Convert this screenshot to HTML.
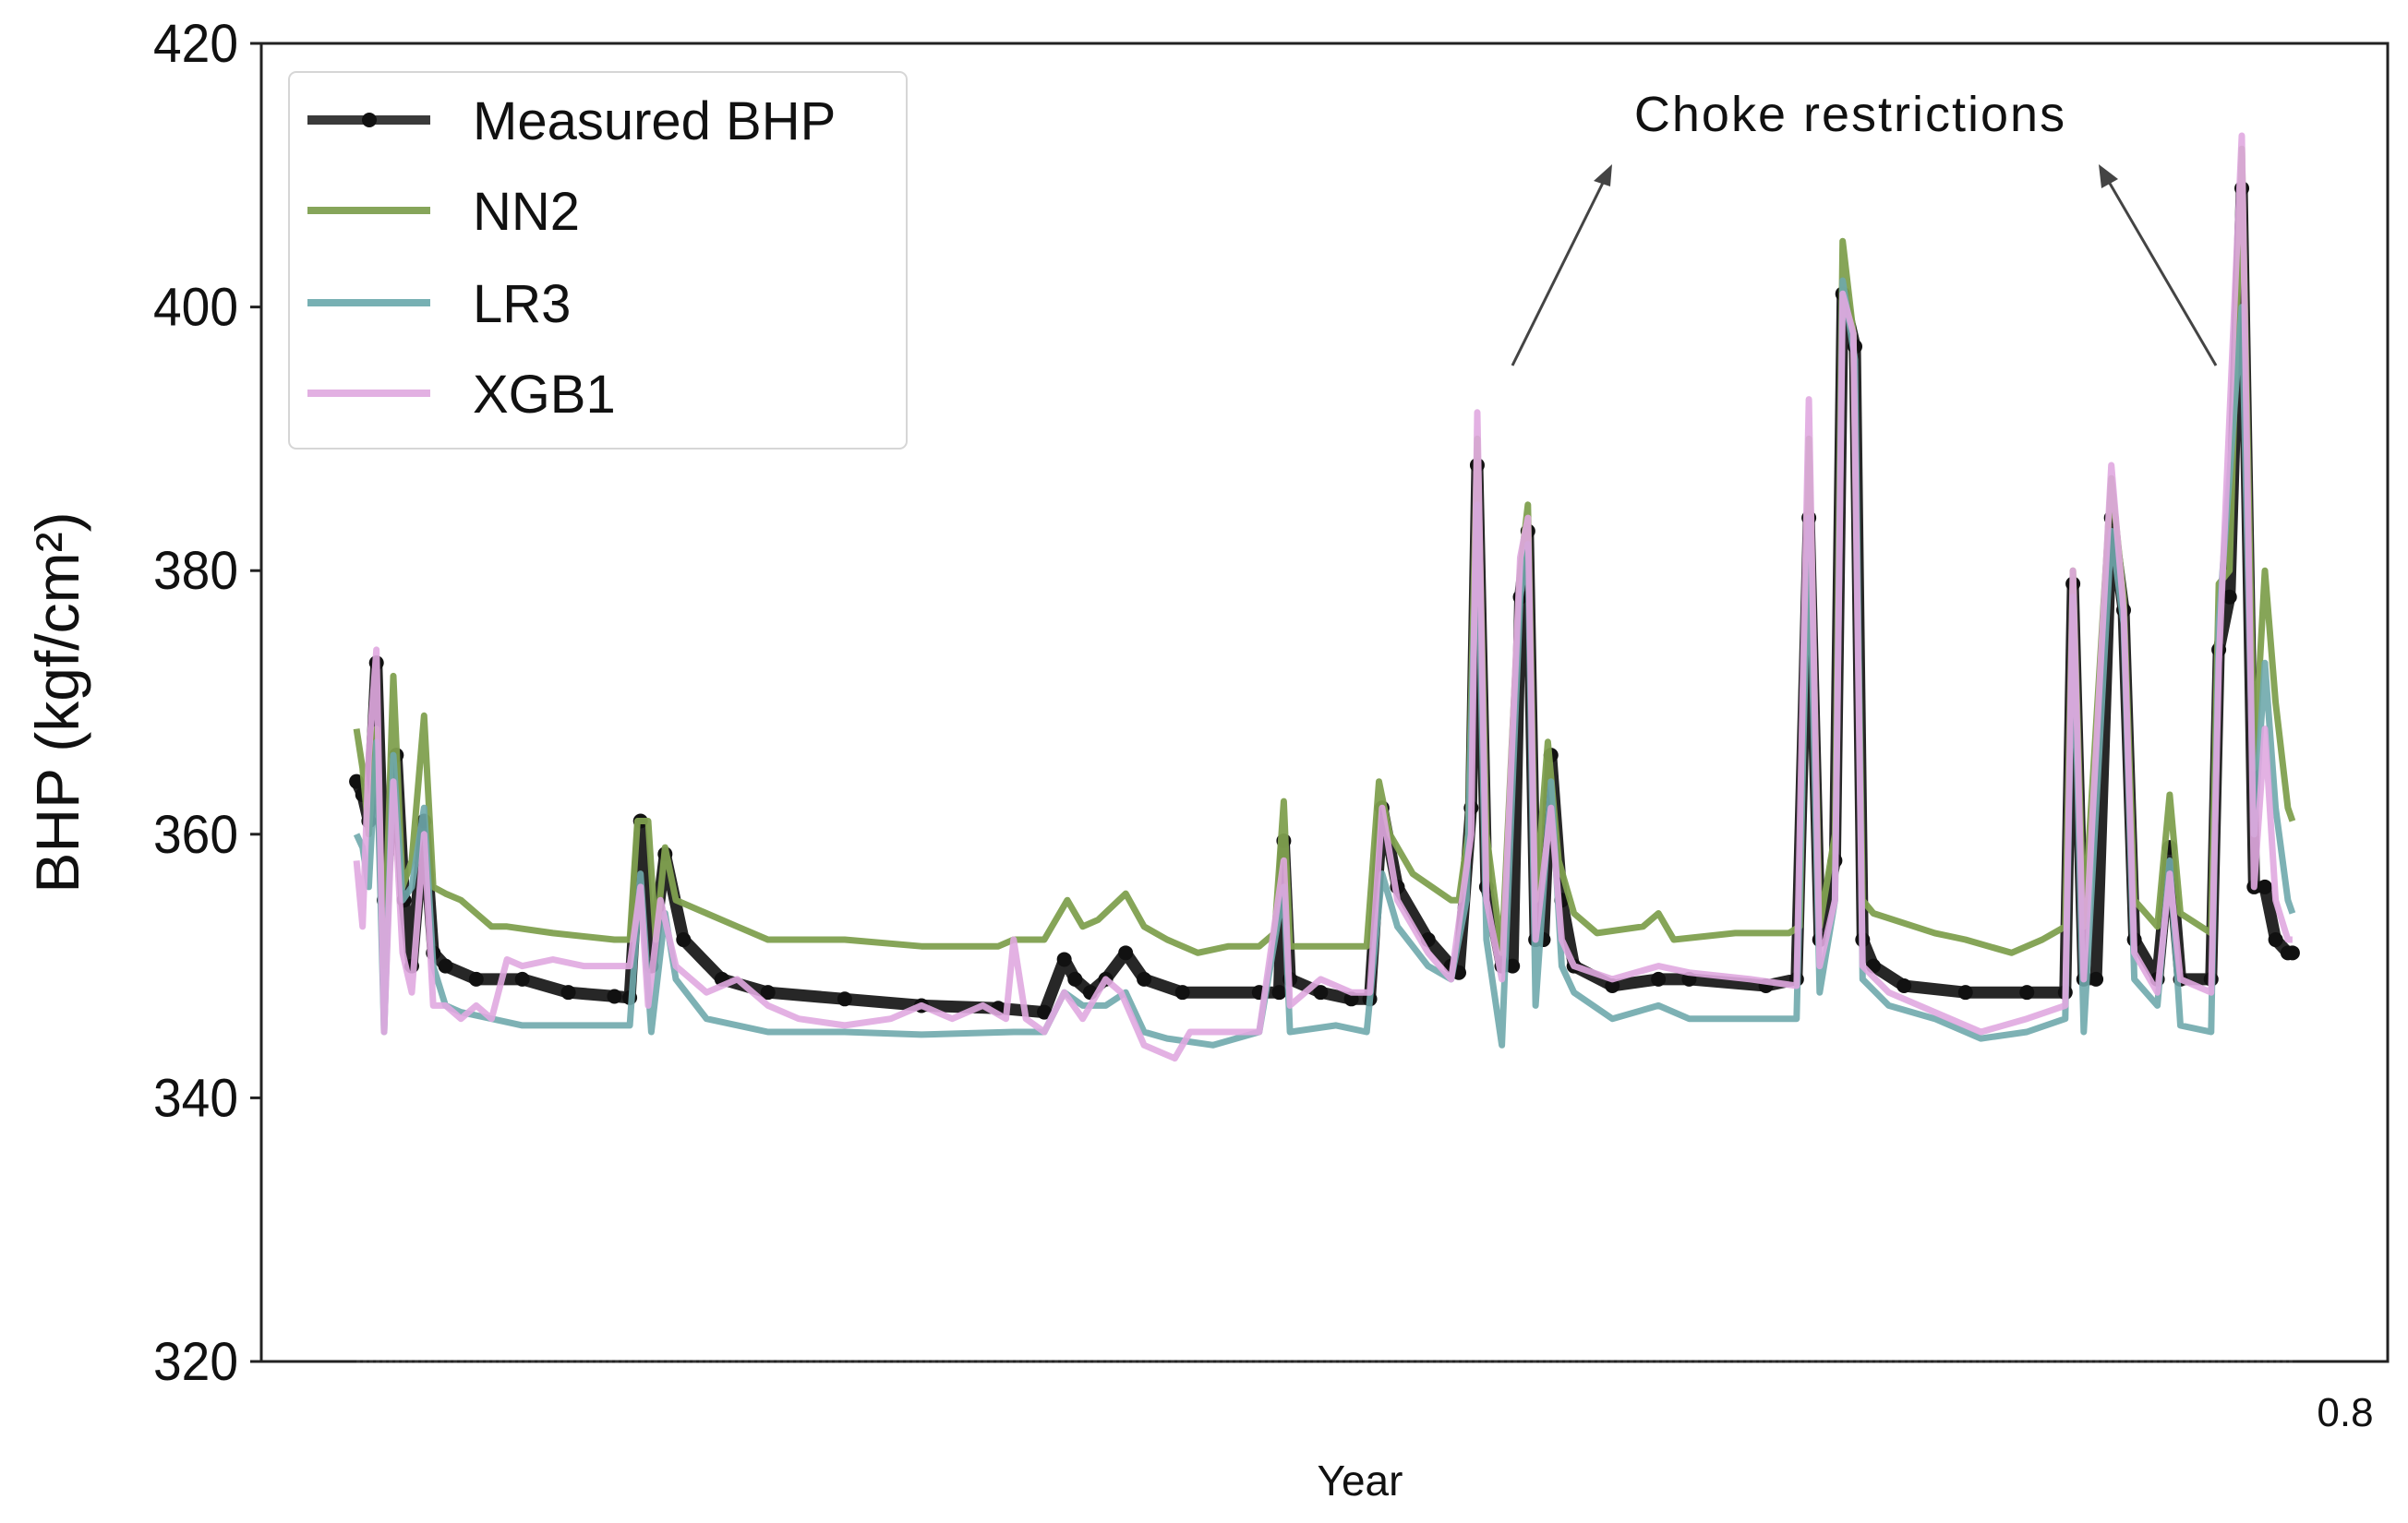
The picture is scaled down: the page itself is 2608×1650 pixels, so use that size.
<!DOCTYPE html>
<html><head><meta charset="utf-8">
<style>
html,body{margin:0;padding:0;background:#fff;}
svg{display:block;font-family:"Liberation Sans","DejaVu Sans",sans-serif;}
</style></head>
<body>
<svg id="chart" width="2608" height="1650" viewBox="0 0 2608 1650">
<rect width="2608" height="1650" fill="#fff"/>
<g id="plot"></g>
<g id="axes"></g>
<g>
  <rect x="313" y="78" width="669" height="408" rx="8" fill="#fff" fill-opacity="0.9" stroke="#d6d6d6" stroke-width="2"/>
  <g>
    <line x1="333" y1="130" x2="466" y2="130" stroke="#3a3a3a" stroke-width="10"/>
    <circle cx="400" cy="130" r="8" fill="#111"/>
    <text x="512" y="151" font-size="58" fill="#111">Measured BHP</text>
  </g>
  <g>
    <line x1="333" y1="228" x2="466" y2="228" stroke="#86a55a" stroke-width="8"/>
    <text x="512" y="249" font-size="58" fill="#111">NN2</text>
  </g>
  <g>
    <line x1="333" y1="328" x2="466" y2="328" stroke="#77b0b3" stroke-width="8"/>
    <text x="512" y="349" font-size="58" fill="#111">LR3</text>
  </g>
  <g>
    <line x1="333" y1="426" x2="466" y2="426" stroke="#e2b0e2" stroke-width="8"/>
    <text x="512" y="447" font-size="58" fill="#111">XGB1</text>
  </g>
</g>
<g>
  <text x="2004" y="142" font-size="54" letter-spacing="2" text-anchor="middle" fill="#111">Choke restrictions</text>
  <line x1="1638" y1="396" x2="1740" y2="190" stroke="#444" stroke-width="3"/>
  <polygon points="1746,178 1726,196 1744,202" fill="#444"/>
  <line x1="2400" y1="396" x2="2280" y2="190" stroke="#444" stroke-width="3"/>
  <polygon points="2273,178 2276,204 2294,194" fill="#444"/>
</g>
<text x="1473" y="1620" font-size="46" text-anchor="middle" fill="#111">Year</text>
<text x="2540" y="1545" font-size="44" text-anchor="middle" fill="#111">0.8</text>
<text transform="translate(85,761) rotate(-90)" font-size="66" text-anchor="middle" fill="#111">BHP (kgf/cm²)</text>
</svg>
<script>
const yTicks = [320, 340, 360, 380, 400, 420];
const measuredDays = [0,4,8,13,18,26,31,36,44,50,58,78,108,138,168,178,185,192,201,213,238,268,318,368,418,448,461,468,478,488,501,513,538,588,601,604,608,628,648,660,668,678,698,713,718,726,730,736,746,753,758,763,768,773,778,785,793,818,848,868,918,938,946,953,963,968,976,981,988,1008,1048,1088,1113,1118,1125,1133,1143,1151,1158,1173,1181,1188,1208,1213,1220,1228,1236,1243,1250,1258,1261];
const measuredValues = [364,363,361,373,355,366,355,350,361,351,350,349,349,348,347.7,347.6,361,350,358.5,352,349,348,347.5,347,346.8,346.5,350.5,349,348,349,351,349,348,348,348,359.5,349,348,347.5,347.5,362,356,352,350,349.5,362,388,356,350,350,378,383,352,352,366,355,350,348.5,349,349,348.5,349,384,352,358,401,397,352,350,348.5,348,348,348,379,349,349,384,377,352,349,359,349,349,374,378,409,356,356,352,351,351];
const nnDays = [0,4,8,13,18,24,30,36,44,50,58,68,78,88,98,128,168,178,183,190,195,201,208,228,248,268,318,368,418,428,448,463,473,483,501,513,528,548,568,588,598,604,608,638,658,666,673,688,713,718,724,730,736,746,758,763,768,776,783,793,808,838,848,858,898,933,940,946,953,963,968,975,981,988,1028,1048,1078,1098,1113,1118,1125,1143,1151,1158,1173,1181,1188,1208,1213,1220,1228,1236,1243,1250,1258,1261];
const nnValues = [368,365,360,368,350,372,356,358,369,356,355.5,355,354,353,353,352.5,352,352,361,361,352,359,355,354,353,352,352,351.5,351.5,352,352,355,353,353.5,355.5,353,352,351,351.5,351.5,352.5,362.5,351.5,351.5,351.5,364,360,357,355,355,360,390,360,351,380,385,355,367,358,354,352.5,353,354,352,352.5,352.5,353,390,353,360,405,398,355,354,352.5,352,351,352,353,380,353,387,378,355,353,363,354,352.5,379,380,412,365,380,370,362,361];
const lrDays = [0,4,8,13,18,24,30,36,44,50,58,68,88,108,138,178,185,192,201,208,228,268,318,368,428,448,461,473,488,501,513,528,558,588,604,608,638,658,668,678,698,713,723,730,736,746,758,763,768,778,785,793,818,848,868,938,946,953,963,968,976,981,998,1028,1058,1088,1113,1118,1125,1143,1151,1158,1173,1181,1188,1208,1213,1228,1236,1243,1250,1258,1261];
const lrValues = [360,359,356,367,345,366,355,356,362,350,347,346.5,346,345.5,345.5,345.5,357,345,354,349,346,345,345,344.8,345,345,348,347,347,348,345,344.5,344,345,356,345,345.5,345,357,353,350,349,355,385,352,344,378,382,347,364,350,348,346,347,346,346,384,348,355,402,396,349,347,346,344.5,345,346,378,345,383,376,349,347,358,345.5,345,376,400,360,373,362,355,354];
const xgbDays = [0,4,8,13,18,24,30,36,44,50,58,68,78,88,98,108,128,148,178,185,190,198,208,228,248,268,288,318,348,368,388,408,423,428,436,448,461,473,488,498,513,533,543,558,588,604,608,628,648,660,668,678,698,713,726,730,736,746,758,763,768,778,785,793,818,848,868,908,938,946,953,963,968,975,981,998,1028,1058,1088,1113,1118,1125,1143,1151,1158,1173,1181,1188,1208,1213,1228,1236,1243,1250,1258,1261];
const xgbValues = [358,353,366,374,345,364,351,348,360,347,347,346,347,346,350.5,350,350.5,350,350,356,347,355,350,348,349,347,346,345.5,346,347,346,347,346,352,346,345,348,346,349,348,344,343,345,345,345,358,347,349,348,348,362,355,351,349,360,392,355,349,381,384,352,362,352,350,349,350,349.5,349,348.5,393,350,355,401,398,350,348,346.5,345,346,347,380,349,388,377,351,348,357,349,348,373,413,356,368,355,352,352];

const NS = 'http://www.w3.org/2000/svg';
const L = 283, R = 2586, T = 47, B = 1475;
const dMin = -62, dMax = 1323, vMin = 320, vMax = 420;
function xScale(d){ return L + (d - dMin) * (R - L) / (dMax - dMin); }
function yScale(v){ return B - (v - vMin) * (B - T) / (vMax - vMin); }

const plot = document.getElementById('plot');
const axes = document.getElementById('axes');

function drawLine(days, vals, color, width, name, opacity){
  const p = document.createElementNS(NS, 'path');
  let d = '';
  for (let i = 0; i < days.length; i++) d += (i ? 'L' : 'M') + xScale(days[i]).toFixed(1) + ',' + yScale(vals[i]).toFixed(1);
  p.setAttribute('d', d);
  p.setAttribute('fill', 'none');
  p.setAttribute('stroke', color);
  p.setAttribute('stroke-width', width);
  p.setAttribute('stroke-linejoin', 'round');
  p.setAttribute('stroke-opacity', opacity);
  
  
  plot.appendChild(p);
}

drawLine(measuredDays, measuredValues, '#151515', 13, 'measured-bhp-line', 0.92);
for (let i = 0; i < measuredDays.length; i++) {
  const c = document.createElementNS(NS, 'circle');
  c.setAttribute('cx', xScale(measuredDays[i]));
  c.setAttribute('cy', yScale(measuredValues[i]));
  c.setAttribute('r', 8);
  c.setAttribute('fill', '#111');
  
  
  plot.appendChild(c);
}
drawLine(nnDays, nnValues, '#7fa04f', 7, 'nn2-line', 0.95);
drawLine(lrDays, lrValues, '#6fa9ac', 7, 'lr3-line', 0.9);
drawLine(xgbDays, xgbValues, '#e0a8e0', 7, 'xgb1-line', 0.9);

const frame = document.createElementNS(NS, 'rect');
frame.setAttribute('x', L); frame.setAttribute('y', T);
frame.setAttribute('width', R - L); frame.setAttribute('height', B - T);
frame.setAttribute('fill', 'none'); frame.setAttribute('stroke', '#222'); frame.setAttribute('stroke-width', 3);


axes.appendChild(frame);

const dash = document.createElementNS(NS, 'line');
dash.setAttribute('x1', xScale(0)); dash.setAttribute('x2', xScale(1263));
dash.setAttribute('y1', B); dash.setAttribute('y2', B);
dash.setAttribute('stroke', '#333'); dash.setAttribute('stroke-width', 3); dash.setAttribute('stroke-dasharray', '4,3');


axes.appendChild(dash);

yTicks.forEach(v => {
  const y = yScale(v);
  const t = document.createElementNS(NS, 'line');
  t.setAttribute('x1', L - 12); t.setAttribute('x2', L); t.setAttribute('y1', y); t.setAttribute('y2', y);
  t.setAttribute('stroke', '#222'); t.setAttribute('stroke-width', 3);
  
  
  axes.appendChild(t);
  const tx = document.createElementNS(NS, 'text');
  tx.setAttribute('x', L - 25); tx.setAttribute('y', y + 20);
  tx.setAttribute('text-anchor', 'end'); tx.setAttribute('font-size', 58); tx.setAttribute('fill', '#111');
  tx.setAttribute('textLength', 92); tx.setAttribute('lengthAdjust', 'spacingAndGlyphs');
  tx.textContent = v;
  
  
  axes.appendChild(tx);
});
</script>
</body></html>
